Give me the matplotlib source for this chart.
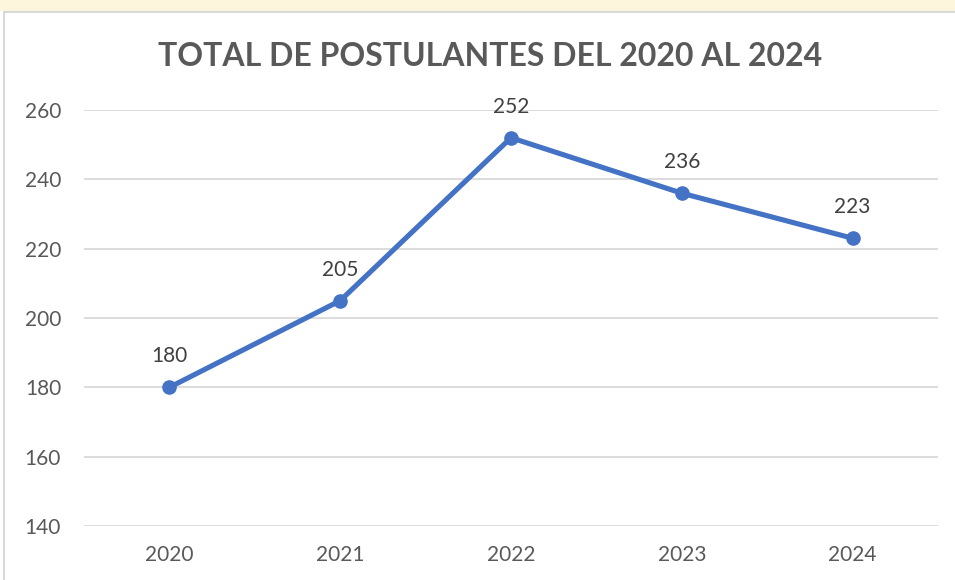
import matplotlib.pyplot as plt
from matplotlib.patches import Rectangle

years = ['2020', '2021', '2022', '2023', '2024']
postulantes = [180, 205, 252, 236, 223]
y_ticks = [140, 160, 180, 200, 220, 240, 260]

plt.rcParams['font.family'] = ['Lato', 'DejaVu Sans']

fig = plt.figure(figsize=(9.55, 5.8), dpi=100)
fig.patch.set_facecolor('white')

# faint watermark strip at the top (background image of the original)
fig.patches.append(Rectangle((0.0, 1 - 11 / 580), 1.0, 11 / 580, transform=fig.transFigure,
                             facecolor='#FDF6DC', edgecolor='none', zorder=0))

# chart frame
fig.patches.append(Rectangle((4 / 955, -0.1), 1.2, 1 - 12 / 580 + 0.1, transform=fig.transFigure,
                             facecolor='white', edgecolor='#D9D9D9', linewidth=1.5, zorder=0.5))

ax = fig.add_axes([84 / 955, 1 - 526 / 580, (938 - 84) / 955, (526 - 110) / 580])
ax.set_zorder(2)
ax.set_facecolor('none')

x = list(range(len(years)))
ax.plot(x, postulantes, color='#4472C4', linewidth=3.7, marker='o', markersize=9.5,
        zorder=3, clip_on=False)

for xi, v in zip(x, postulantes):
    ax.annotate(str(v), (xi, v), xytext=(0, 15), textcoords='offset points',
                ha='center', va='bottom', fontsize=15, color='#404040')

ax.set_xlim(-0.5, 4.5)
ax.set_ylim(140, 260)
ax.set_yticks(y_ticks)
ax.set_xticks(x)
ax.set_xticklabels(years)
ax.grid(axis='y', color='#D9D9D9', linewidth=1.3)
ax.set_axisbelow(True)
for s in ax.spines.values():
    s.set_visible(False)
ax.tick_params(axis='both', length=0, labelsize=15, labelcolor='#595959')
ax.tick_params(axis='y', pad=16.5)
ax.tick_params(axis='x', pad=14)

fig.text(490 / 955, 1 - 57 / 580, 'TOTAL DE POSTULANTES DEL 2020 AL 2024',
         ha='center', va='center', fontsize=23, fontweight='bold', color='#595959',
         zorder=3)

plt.savefig('out.png', dpi=100)
